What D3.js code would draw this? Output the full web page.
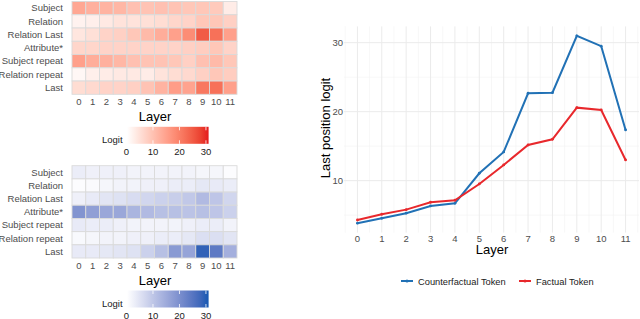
<!DOCTYPE html>
<html>
<head>
<meta charset="utf-8">
<script src="https://cdn.jsdelivr.net/npm/d3@7"></script>
<style>
  body { margin: 0; background: #fff; }
  text { font-family: "Liberation Sans", Arial, sans-serif; }
</style>
</head>
<body>
<script>
const W = 640, H = 319;

// データ
const layers = [0, 1, 2, 3, 4, 5, 6, 7, 8, 9, 10, 11];
const rowNames = ["Subject", "Relation", "Relation Last", "Attribute*", "Subject repeat", "Relation repeat", "Last"];

// 上のヒートマップ（赤）
const factualGrid = [
  [14, 12.5, 12, 11.5, 10, 9.5, 10, 9.5, 9, 9, 8.5, 3],
  [2, 2.5, 3.5, 4.5, 4.5, 5, 5.5, 6.5, 7, 9, 9, 7.5],
  [4, 5, 7, 7.5, 9, 11, 13, 15, 18, 25, 22, 15],
  [6.5, 6.5, 7, 7, 7, 7, 7, 7, 7.5, 8, 9, 7],
  [15, 13, 12.5, 11.5, 10, 9.5, 9.5, 9, 7.5, 10, 11, 9],
  [1.2, 2.5, 3, 3.5, 3.5, 3, 4.5, 5.5, 6, 7.5, 9, 8],
  [5.5, 6, 7, 7, 7.5, 9.5, 12, 15.5, 14.5, 21, 22, 15]
];

// 下のヒートマップ（青）
const counterGrid = [
  [3, 2.5, 2.5, 2.5, 2, 2, 2, 2, 2, 1.5, 1.5, 0.5],
  [0.5, 0.8, 1.5, 2, 2, 2.5, 2.5, 3, 3, 4, 3.5, 3],
  [2.5, 3.5, 4.5, 5, 6, 7, 8, 8.5, 9.5, 12, 10, 7],
  [19, 17, 15.5, 15.5, 13, 12, 11, 11, 10.5, 11, 10, 8],
  [3.5, 3, 3, 2.5, 2, 2, 2, 2, 2.5, 3, 3, 2],
  [1, 1.5, 2, 2, 2.5, 2.5, 3, 3, 4, 5.5, 5.5, 4.5],
  [3.5, 3.5, 4, 4.5, 5, 8, 11, 18, 16, 29, 24, 14]
];

// 折れ線
const counterfactualLine = [3.83, 4.55, 5.28, 6.33, 6.72, 11.07, 14.16, 22.67, 22.75, 31.0, 29.5, 17.35];
const factualLine = [4.3, 5.13, 5.8, 6.87, 7.16, 9.52, 12.28, 15.17, 16.0, 20.58, 20.25, 13.0];

const legendTicks = [0, 10, 20, 30];
const yTicks = [10, 20, 30];
const seriesNames = ["Counterfactual Token", "Factual Token"];

const svg = d3.select("body").append("svg")
  .attr("width", W)
  .attr("height", H);

const grey30 = "#4d4d4d";

// ヒートマップ描画
function heatmap(grid, y0, y1, hiColor) {
  const x = d3.scaleBand().domain(layers).range([72, 237]);
  const y = d3.scaleBand().domain(rowNames).range([y0, y1]);
  const color = d3.scaleLinear().domain([0, 31]).range(["#ffffff", hiColor])
    .interpolate(d3.interpolateLab).clamp(true);

  const cells = [];
  grid.forEach((row, i) => row.forEach((v, j) => cells.push({ r: rowNames[i], c: layers[j], v })));

  const g = svg.append("g");
  g.selectAll("rect").data(cells).join("rect")
    .attr("x", d => x(d.c))
    .attr("y", d => y(d.r))
    .attr("width", x.bandwidth())
    .attr("height", y.bandwidth())
    .attr("fill", d => color(d.v))
    .attr("stroke", "#dadada")
    .attr("stroke-width", 0.9);

  // 行ラベル
  g.selectAll("text.row").data(rowNames).join("text")
    .attr("class", "row")
    .attr("x", 63)
    .attr("y", d => y(d) + y.bandwidth() / 2 + 3.3)
    .attr("text-anchor", "end")
    .attr("fill", grey30)
    .style("font-size", "9.5px")
    .text(d => d);

  // 列ラベル
  g.selectAll("text.col").data(layers).join("text")
    .attr("class", "col")
    .attr("x", d => x(d) + x.bandwidth() / 2)
    .attr("y", y1 + 11)
    .attr("text-anchor", "middle")
    .attr("fill", grey30)
    .style("font-size", "9.5px")
    .text(d => d);

  g.append("text")
    .attr("x", 155)
    .attr("y", y1 + 26.5)
    .attr("text-anchor", "middle")
    .attr("fill", "#000")
    .style("font-size", "13px")
    .text("Layer");

  // カラーバー
  const ly = y1 + 32.5;
  const lx = d3.scaleLinear().domain([0, 31]).range([126.5, 208.6]);
  const gradId = "grad" + hiColor.slice(1);
  const grad = svg.append("defs").append("linearGradient").attr("id", gradId);
  d3.range(0, 1.001, 0.1).forEach(t => {
    grad.append("stop").attr("offset", t).attr("stop-color", color(t * 31));
  });
  g.append("rect")
    .attr("x", lx(0.2))
    .attr("y", ly)
    .attr("width", lx(31) - lx(0.2))
    .attr("height", 17)
    .attr("fill", `url(#${gradId})`);
  legendTicks.forEach(t => {
    if (t > 0 && t < 31) {
      g.append("line").attr("x1", lx(t)).attr("x2", lx(t))
        .attr("y1", ly).attr("y2", ly + 3.5).attr("stroke", "#fff").attr("stroke-width", 0.8);
      g.append("line").attr("x1", lx(t)).attr("x2", lx(t))
        .attr("y1", ly + 13.5).attr("y2", ly + 17).attr("stroke", "#fff").attr("stroke-width", 0.8);
    }
  });
  g.selectAll("text.lt").data(legendTicks).join("text")
    .attr("class", "lt")
    .attr("x", d => lx(d))
    .attr("y", ly + 28)
    .attr("text-anchor", "middle")
    .attr("fill", "#1a1a1a")
    .style("font-size", "9.5px")
    .text(d => d);
  g.append("text")
    .attr("x", 102)
    .attr("y", ly + 16.5)
    .attr("fill", "#1a1a1a")
    .style("font-size", "9.5px")
    .text("Logit");
}

heatmap(factualGrid, 1.5, 94.3, "#e41a1c");
heatmap(counterGrid, 165.7, 258, "#1658b2");

// 折れ線グラフ
const px = d3.scaleLinear().domain([-0.55, 11.55]).range([344, 639]);
const py = d3.scaleLinear().domain([2.47, 32.36]).range([232.6, 26.4]);

const grid = svg.append("g");
// 副グリッド
grid.selectAll("line.mx").data(d3.range(-0.5, 11.6, 1)).join("line")
  .attr("x1", d => px(d)).attr("x2", d => px(d))
  .attr("y1", py.range()[0]).attr("y2", py.range()[1])
  .attr("stroke", "#f2f2f2").attr("stroke-width", 0.6);
grid.selectAll("line.my").data([5, 15, 25]).join("line")
  .attr("x1", px.range()[0]).attr("x2", px.range()[1])
  .attr("y1", d => py(d)).attr("y2", d => py(d))
  .attr("stroke", "#f2f2f2").attr("stroke-width", 0.6);
// 主グリッド
grid.selectAll("line.gx").data(layers).join("line")
  .attr("x1", d => px(d)).attr("x2", d => px(d))
  .attr("y1", py.range()[0]).attr("y2", py.range()[1])
  .attr("stroke", "#ebebeb").attr("stroke-width", 1);
grid.selectAll("line.gy").data(yTicks).join("line")
  .attr("x1", px.range()[0]).attr("x2", px.range()[1])
  .attr("y1", d => py(d)).attr("y2", d => py(d))
  .attr("stroke", "#ebebeb").attr("stroke-width", 1);

// 軸ラベル
svg.append("g").selectAll("text").data(layers).join("text")
  .attr("x", d => px(d))
  .attr("y", 241.5)
  .attr("text-anchor", "middle")
  .attr("fill", grey30)
  .style("font-size", "9.5px")
  .text(d => d);
svg.append("g").selectAll("text").data(yTicks).join("text")
  .attr("x", 343)
  .attr("y", d => py(d) + 3.3)
  .attr("text-anchor", "end")
  .attr("fill", grey30)
  .style("font-size", "9.5px")
  .text(d => d);

svg.append("text")
  .attr("x", 492)
  .attr("y", 254)
  .attr("text-anchor", "middle")
  .style("font-size", "13px")
  .text("Layer");
svg.append("text")
  .attr("transform", "translate(330,128) rotate(-90)")
  .attr("text-anchor", "middle")
  .style("font-size", "13px")
  .text("Last position logit");

// 線
const lineColors = ["#2171b5", "#e8282c"];
const lineGen = d3.line().x((d, i) => px(layers[i])).y(d => py(d));
[counterfactualLine, factualLine].forEach((s, k) => {
  svg.append("path")
    .attr("d", lineGen(s))
    .attr("fill", "none")
    .attr("stroke", lineColors[k])
    .attr("stroke-width", 2);
  svg.append("g").selectAll("circle").data(s).join("circle")
    .attr("cx", (d, i) => px(layers[i]))
    .attr("cy", d => py(d))
    .attr("r", 1.4)
    .attr("fill", lineColors[k]);
});

// 凡例
const legX = [401, 519];
seriesNames.forEach((name, k) => {
  const lg = svg.append("g");
  lg.append("line")
    .attr("x1", legX[k]).attr("x2", legX[k] + 12)
    .attr("y1", 281).attr("y2", 281)
    .attr("stroke", lineColors[k]).attr("stroke-width", 2);
  lg.append("circle")
    .attr("cx", legX[k] + 6).attr("cy", 281).attr("r", 1.5)
    .attr("fill", lineColors[k]);
  lg.append("text")
    .attr("x", legX[k] + 17)
    .attr("y", 284.5)
    .attr("fill", "#1a1a1a")
    .style("font-size", "9.3px")
    .text(name);
});
</script>
</body>
</html>
